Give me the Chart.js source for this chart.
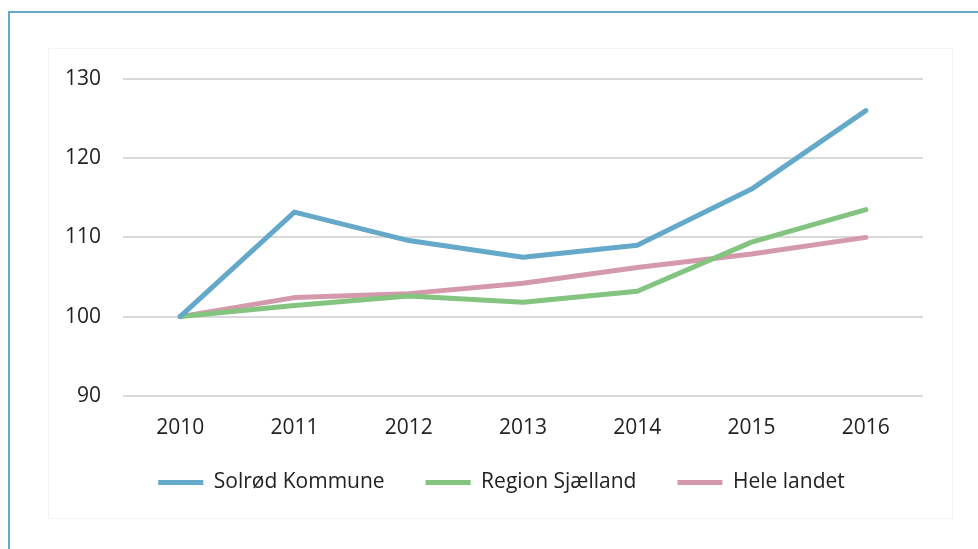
<!DOCTYPE html>
<html lang="da">
  <head>
    <meta charset="UTF-8" />
    <title>Indeks 2010-2016</title>
    <style>
      html, body { margin: 0; padding: 0; background: #fff; }
      body { width: 978px; height: 549px; overflow: hidden; position: relative; }
      .frame {
        position: absolute; left: 8px; top: 11px; width: 1000px; height: 600px;
        border: 2px solid #68a9c9; box-sizing: border-box;
      }
      .inner {
        position: absolute; left: 48px; top: 48px; width: 905px; height: 471px;
        border: 1px solid #f3f3f3; box-sizing: border-box;
      }
      .wrap { position: absolute; left: 0; top: 0; width: 978px; height: 549px; }
    </style>
  </head>
  <body>
    <div class="frame"></div>
    <div class="inner"></div>
    <div class="wrap"><canvas id="myChart"></canvas></div>
    <script src="https://cdn.jsdelivr.net/npm/chart.js@4.4.0/dist/chart.umd.min.js"></script>
    <script>
      const years = ["2010", "2011", "2012", "2013", "2014", "2015", "2016"];
      const solrod = [100, 113.2, 109.6, 107.5, 109.0, 116.1, 126.0];
      const regionSj = [100, 101.4, 102.6, 101.8, 103.2, 109.4, 113.5];
      const heleLandet = [100, 102.4, 102.9, 104.2, 106.2, 107.9, 110.0];
      const yTicks = [90, 100, 110, 120, 130];

      const font = "'Open Sans', 'Noto Sans', sans-serif";

      function line(label, data, color) {
        return {
          label: label,
          data: data,
          borderColor: color,
          backgroundColor: color,
          borderWidth: 5,
          pointRadius: 0,
          tension: 0,
          borderCapStyle: "round",
          borderJoinStyle: "round",
          fill: false,
        };
      }

      // legenden ligger tættere på x-aksen end chart.js selv tillader
      const legendNudge = {
        id: "legendNudge",
        afterLayout(chart) {
          const lg = chart.legend;
          lg.top = 431;
          lg.left += 20;
          lg.right += 20;
        },
      };

      let myChart = new Chart(document.getElementById("myChart"), {
        type: "line",
        data: {
          labels: years,
          datasets: [
            line("Solrød Kommune", solrod, "#64a8ca"),
            line("Region Sjælland", regionSj, "#82c480"),
            line("Hele landet", heleLandet, "#d49aab"),
          ],
        },
        plugins: [legendNudge],
        options: {
          responsive: true,
          maintainAspectRatio: false,
          animation: false,
          layout: { padding: { left: 40, right: 55, top: 79, bottom: 16 } },
          plugins: {
            tooltip: { enabled: false },
            legend: {
              position: "bottom",
              labels: {
                usePointStyle: true,
                pointStyle: "line",
                pointStyleWidth: 45,
                padding: 41,
                color: "#222",
                font: { family: font, size: 21 },
              },
            },
          },
          scales: {
            x: {
              offset: true,
              grid: { display: false, drawTicks: false },
              border: { display: false },
              ticks: { color: "#222", padding: 20, font: { family: font, size: 21 } },
            },
            y: {
              min: 90,
              max: 130,
              afterBuildTicks: (scale) => {
                scale.ticks = yTicks.map((v) => ({ value: v }));
              },
              afterFit: (scale) => { scale.width = 83; },
              grid: { color: "#d9d9d9", lineWidth: 2, drawTicks: false },
              border: { display: false },
              ticks: { color: "#222", padding: 22, font: { family: font, size: 21 } },
            },
          },
        },
      });
    </script>
  </body>
</html>
